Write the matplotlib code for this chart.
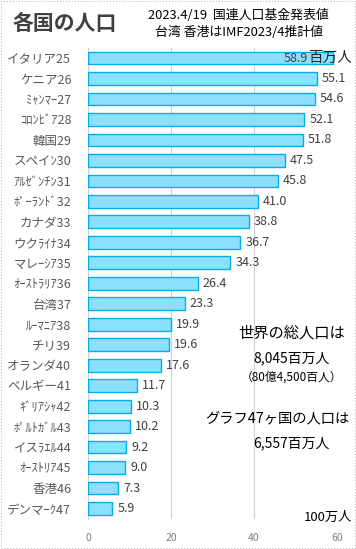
import matplotlib
matplotlib.use('Agg')
import matplotlib.pyplot as plt
from matplotlib.patches import Rectangle

plt.rcParams['font.family'] = ['Noto Sans CJK JP', 'DejaVu Sans']

# data
countries = ['イタリア25', 'ケニア26', 'ﾐｬﾝﾏｰ27', 'ｺﾛﾝﾋﾞｱ28', '韓国29', 'スペイﾝ30',
             'ｱﾙｾﾞﾝﾁﾝ31', 'ﾎﾟｰﾗﾝﾄﾞ32', 'カナダ33', 'ウクﾗｲﾅ34', 'マレｰｼｱ35',
             'ｵｰｽﾄﾗﾘｱ36', '台湾37', 'ﾙｰﾏﾆｱ38', 'チリ39', 'オランダ40', 'ベルギー41',
             'ｷﾞﾘｱｼｬ42', 'ﾎﾟﾙﾄｶﾞﾙ43', 'イスﾗｴﾙ44', 'ｵｰｽﾄﾘｱ45', '香港46', 'デンマｰｸ47']
population = [58.9, 55.1, 54.6, 52.1, 51.8, 47.5, 45.8, 41.0, 38.8, 36.7, 34.3,
              26.4, 23.3, 19.9, 19.6, 17.6, 11.7, 10.3, 10.2, 9.2, 9.0, 7.3, 5.9]
xticks = [0, 20, 40, 60]

fig = plt.figure(figsize=(3.56, 5.49), dpi=100)
ax = fig.add_axes([0.247, 0.055, 0.7, 0.858])

ypos = list(range(len(countries)))
ax.barh(ypos, population, height=0.62, color='#8DE0FC', edgecolor='#00AEEF', linewidth=1.0, zorder=3)
ax.set_ylim(len(countries) - 0.5, -0.5)
ax.set_xlim(0, 60)
ax.set_yticks(ypos)
ax.set_yticklabels(countries, fontsize=9, color='#595959')
ax.set_xticks(xticks)
ax.set_xticklabels([str(t) for t in xticks], fontsize=7.5, color='#7f7f7f')
ax.tick_params(axis='y', length=0, pad=12)
ax.tick_params(axis='x', length=0, pad=10)
ax.xaxis.grid(True, color='#d0d0d0', linewidth=0.8, zorder=0)
for s in ['top', 'right', 'bottom']:
    ax.spines[s].set_visible(False)
ax.spines['left'].set_color('#d0d0d0')

# value labels
for i, v in enumerate(population):
    if i == 0:
        ax.text(v - 6.0, i, f'{v:.1f}', ha='right', va='center', fontsize=9, color='#404040', zorder=4)
    else:
        ax.text(v + 1.2, i, f'{v:.1f}', ha='left', va='center', fontsize=9, color='#404040', zorder=4)
fig.text(0.99, 0.894, '百万人', ha='right', va='center', fontsize=10.5, color='#262626', zorder=5)

# titles
fig.text(0.035, 0.957, '各国の人口', fontsize=15, fontweight='bold', color='#404040', va='center')
fig.text(0.67, 0.972, '2023.4/19  国連人口基金発表値', fontsize=9.3, color='#000000', ha='center', va='center')
fig.text(0.67, 0.94, '台湾 香港はIMF2023/4推計値', fontsize=9.3, color='#000000', ha='center', va='center')

# notes
fig.text(0.82, 0.393, '世界の総人口は', fontsize=11, color='#000000', ha='center', va='center')
fig.text(0.82, 0.348, '8,045百万人', fontsize=10, color='#000000', ha='center', va='center')
fig.text(0.82, 0.313, '（80億4,500百人）', fontsize=8.5, color='#000000', ha='center', va='center')
fig.text(0.78, 0.238, 'グラフ47ヶ国の人口は', fontsize=10.3, color='#000000', ha='center', va='center')
fig.text(0.82, 0.193, '6,557百万人', fontsize=10, color='#000000', ha='center', va='center')
fig.text(0.99, 0.057, '100万人', fontsize=9.5, color='#000000', ha='right', va='center')

fig.patches.append(Rectangle((0.002, 0.002), 0.996, 0.996, transform=fig.transFigure,
                             fill=False, edgecolor='#bfbfbf', linewidth=0.8, linestyle=':'))

fig.savefig('out.png', dpi=100)
